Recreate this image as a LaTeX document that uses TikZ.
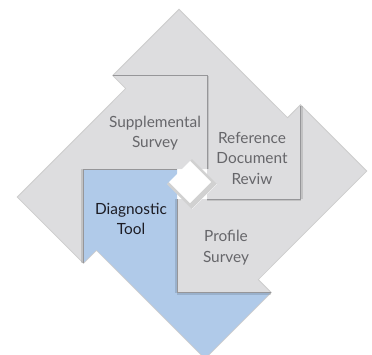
\documentclass[tikz,border=0pt]{standalone}
\usepackage{fontspec}
\setmainfont{Lato}
\usepackage{xcolor}
\usepackage{tikz}
\definecolor{piecegray}{RGB}{221,221,223}
\definecolor{pieceblue}{RGB}{176,202,233}
\definecolor{seamgray}{RGB}{150,150,153}
\definecolor{textgray}{RGB}{102,102,106}
\definecolor{textdark}{RGB}{28,28,36}
\tikzstyle{grayblock} = [fill=piecegray]
\tikzstyle{blueblock} = [fill=pieceblue]
\tikzstyle{seam} = [draw=seamgray, line width=0.6pt]
\tikzstyle{seamshade} = [draw=black, opacity=0.12, line width=2.4pt]
\tikzstyle{rim} = [draw=black, opacity=0.2, line width=2pt, line join=miter]
\tikzstyle{blocktext} = [align=center,
                         text=textgray,
                         font=\fontsize{15.4}{20.5}\selectfont,
                        ]

\begin{document}
\begin{tikzpicture}[x=1pt, y=-1pt]
\useasboundingbox (-192,-184) rectangle (180,170);

% tips of the four heads
\coordinate (A_ref) at (-13,-174);
\coordinate (A_prof) at (174,-13);
\coordinate (A_diag) at (13,174);
\coordinate (A_supp) at (-174,13);
% notch tips
\coordinate (N_ref) at (95.5,-65.5);
\coordinate (N_prof) at (65.5,95.5);
\coordinate (N_diag) at (-95.5,65.5);
\coordinate (N_supp) at (-65.5,-95.5);
% outer corners of the blocks
\coordinate (C_supp) at (-78.5,-108.5);
\coordinate (C_ref) at (108.5,-78.5);
\coordinate (C_prof) at (78.5,108.5);
\coordinate (C_diag) at (-108.5,78.5);

\draw [rim] (A_ref) -- (N_ref) -- (C_ref) -- (A_prof) -- (N_prof) -- (C_prof) -- (A_diag) -- (N_diag) -- (C_diag) -- (A_supp) -- (N_supp) -- (C_supp) -- cycle;

% heads
\fill [grayblock] (A_ref) -- (N_ref) -- (15,-65.5) -- (15,-108.5) -- (C_supp) -- cycle;
\fill [grayblock] (A_prof) -- (N_prof) -- (65.5,15) -- (108.5,15) -- (C_ref) -- cycle;
\fill [blueblock] (A_diag) -- (N_diag) -- (-15,65.5) -- (-15,108.5) -- (C_prof) -- cycle;
\fill [grayblock] (A_supp) -- (N_supp) -- (-65.5,-15) -- (-108.5,-15) -- (C_diag) -- cycle;

% blocks
\fill [grayblock] (-78.5,-15) -- (-78.5,-82.5) -- (N_supp) -- (C_supp) -- (15,-108.5) -- (15,-15) -- cycle;
\fill [grayblock] (15,-78.5) -- (82.5,-78.5) -- (N_ref) -- (C_ref) -- (108.5,15) -- (15,15) -- cycle;
\fill [grayblock] (78.5,15) -- (78.5,82.5) -- (N_prof) -- (C_prof) -- (-15,108.5) -- (-15,15) -- cycle;
\fill [blueblock] (-15,78.5) -- (-82.5,78.5) -- (N_diag) -- (C_diag) -- (-108.5,-15) -- (-15,-15) -- cycle;

% seams between blocks and heads
\draw [seamshade] (16.2,-108.5) -- (16.2,-15);
\draw [seamshade] (109.7,-78.5) -- (109.7,15);
\draw [seamshade] (108.5,16.2) -- (15,16.2);
\draw [seamshade] (78.5,109.7) -- (-15,109.7);
\draw [seamshade] (-16.2,108.5) -- (-16.2,15);
\draw [seamshade] (-109.7,78.5) -- (-109.7,-15);
\draw [seam] (C_supp) -- (15,-108.5) -- (15,-15);
\draw [seam] (C_ref) -- (108.5,15) -- (15,15);
\draw [seam] (C_prof) -- (-15,108.5) -- (-15,15);
\draw [seam] (C_diag) -- (-108.5,-15) -- (-15,-15);

% hole in the middle
\fill [white] (0,-25) -- (25,0) -- (0,25) -- (-25,0) -- cycle;
\begin{scope}
\clip (0,-25) -- (25,0) -- (0,25) -- (-25,0) -- cycle;
\draw [black, opacity=0.18, line width=5pt] (-2,-27) -- (23,-2) -- (-2,23) -- (-27,-2) -- cycle;
\end{scope}

\node (supp) [blocktext] at (-37,-51) {Supplemental\\Survey};
\node (refdoc) [blocktext] at (60,-26) {Reference\\Document\\Reviw};
\node (diag) [blocktext, text=textdark] at (-61,35) {Diagnostic\\Tool};
\node (prof) [blocktext] at (34,63.5) {Profile\\Survey};

\end{tikzpicture}
\end{document}
